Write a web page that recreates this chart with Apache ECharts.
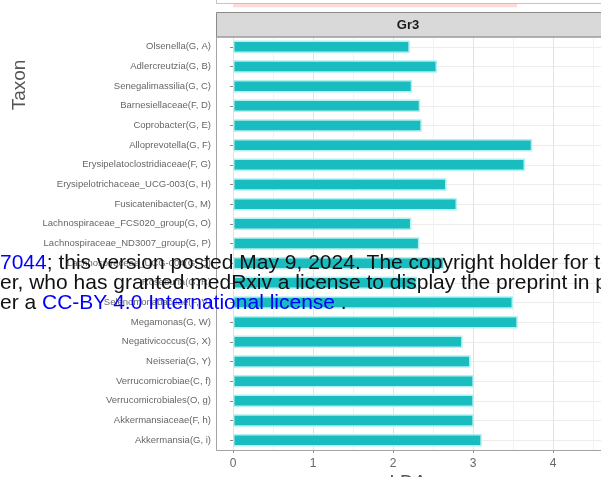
<!DOCTYPE html>
<html>
<head>
<meta charset="utf-8">
<script src="https://cdn.jsdelivr.net/npm/echarts@6/dist/echarts.min.js"></script>
<title>Gr3 LDA</title>
<style>
  html, body { margin: 0; padding: 0; background: #fff; }
  #main { width: 601px; height: 477px; }
</style>
</head>
<body>
<div id="main"></div>
<script type="text/javascript">
// taxa of the Gr3 facet, top to bottom
var taxa = [
  'Olsenella(G, A)', 'Adlercreutzia(G, B)', 'Senegalimassilia(G, C)',
  'Barnesiellaceae(F, D)', 'Coprobacter(G, E)', 'Alloprevotella(G, F)',
  'Erysipelatoclostridiaceae(F, G)', 'Erysipelotrichaceae_UCG-003(G, H)',
  'Fusicatenibacter(G, M)', 'Lachnospiraceae_FCS020_group(G, O)',
  'Lachnospiraceae_ND3007_group(G, P)', 'Lachnospiraceae_UCG-004(G, Q)',
  'Roseburia(G, R)', 'Selenomonadaceae(F, V)', 'Megamonas(G, W)',
  'Negativicoccus(G, X)', 'Neisseria(G, Y)', 'Verrucomicrobiae(C, f)',
  'Verrucomicrobiales(O, g)', 'Akkermansiaceae(F, h)', 'Akkermansia(G, i)'
];
var lda = [2.21, 2.55, 2.24, 2.34, 2.36, 3.74, 3.65, 2.67, 2.80, 2.23, 2.33,
           2.64, 2.30, 3.50, 3.56, 2.87, 2.97, 3.01, 3.01, 3.01, 3.11];

// bottom edge of the facet above (only its last bar peeks in)
var prevTaxa = ['prev'];
var prevLda = [3.55];

var stripLabel = 'Gr3';
var xTitle = 'LDA';
var yTitle = 'Taxon';

var myChart = echarts.init(document.getElementById('main'));
var font = 'Liberation Sans, Arial, sans-serif';
var noteFont = '21px ' + font;

var option = {
  animation: false,
  textStyle: { fontFamily: font },
  grid: [
    { left: 233, right: 0, top: 37, bottom: 27 },
    { left: 233, right: 0, top: -14, height: 17 }
  ],
  xAxis: [{
    gridIndex: 0,
    type: 'value',
    min: 0, max: 4.6, interval: 1,
    axisLine: { show: false },
    axisTick: { show: true, length: 3, lineStyle: { color: '#8c8c8c' } },
    axisLabel: { color: '#666', fontSize: 12, margin: 8, showMaxLabel: false },
    splitLine: { show: true, lineStyle: { color: '#e3e3e3', width: 1 } },
    minorTick: { show: false, splitNumber: 2 },
    minorSplitLine: { show: true, lineStyle: { color: '#f1f1f1', width: 1 } }
  }, {
    gridIndex: 1,
    type: 'value',
    min: 0, max: 4.6,
    show: false
  }],
  yAxis: [{
    gridIndex: 0,
    type: 'category',
    data: taxa,
    inverse: true,
    offset: 17,
    axisLine: { show: false },
    axisTick: { show: true, length: 3, alignWithLabel: true, lineStyle: { color: '#8c8c8c' } },
    axisLabel: { color: '#666', fontSize: 9.5, margin: 5 },
    splitLine: { show: true, alignWithLabel: true, lineStyle: { color: '#ececec' } }
  }, {
    gridIndex: 1,
    type: 'category',
    data: prevTaxa,
    show: false
  }],
  series: [{
    type: 'bar',
    xAxisIndex: 0,
    yAxisIndex: 0,
    data: lda,
    barWidth: 12.5,
    itemStyle: { color: '#19bcbf', borderColor: '#b3f0f0', borderWidth: 1.5 }
  }, {
    type: 'bar',
    xAxisIndex: 1,
    yAxisIndex: 1,
    data: prevLda,
    barWidth: 13,
    itemStyle: { color: '#fbdcdb' }
  }],
  graphic: [
    // previous panel bottom border
    { type: 'line', z: 50, shape: { x1: 216, y1: 3.5, x2: 601, y2: 3.5 }, style: { stroke: '#c4c4c4', lineWidth: 1 } },
    { type: 'line', z: 50, shape: { x1: 216.5, y1: 0, x2: 216.5, y2: 3.5 }, style: { stroke: '#c4c4c4', lineWidth: 1 } },
    // facet strip
    { type: 'rect', z: 50, shape: { x: 216.5, y: 12.5, width: 400, height: 24.5 },
      style: { fill: '#d9d9d9', stroke: '#8a8a8a', lineWidth: 1 } },
    { type: 'text', z: 51, x: 408, y: 25,
      style: { text: stripLabel, font: 'bold 13px ' + font, fill: '#1a1a1a', textAlign: 'center', textVerticalAlign: 'middle' } },
    // panel border
    { type: 'rect', z: 50, shape: { x: 216.5, y: 37, width: 400, height: 413.5 },
      style: { fill: 'none', stroke: '#a3a3a3', lineWidth: 1 } },
    // axis titles
    { type: 'text', z: 51, x: 20, y: 85, rotation: Math.PI / 2,
      style: { text: yTitle, font: '19px ' + font, fill: '#555', textAlign: 'center', textVerticalAlign: 'middle' } },
    { type: 'text', z: 51, x: 408, y: 473,
      style: { text: xTitle, font: '19px ' + font, fill: '#555', textAlign: 'center', textVerticalAlign: 'top' } },
    // preprint notice printed over the figure
    { type: 'text', z: 100, x: 0, y: 263,
      style: {
        text: '{b|7044}; this version posted May 9, 2024. The copyright holder for this preprint',
        font: noteFont, fill: '#111', textVerticalAlign: 'middle',
        rich: { b: { fill: '#0000ff', font: noteFont } }
      } },
    { type: 'text', z: 100, x: 0, y: 283,
      style: {
        text: 'er, who has granted medRxiv a license to display the preprint in perpetuity.',
        font: noteFont, fill: '#111', textVerticalAlign: 'middle'
      } },
    { type: 'text', z: 100, x: 0, y: 303,
      style: {
        text: 'er a {b|CC-BY 4.0 International license} .',
        font: noteFont, fill: '#111', textVerticalAlign: 'middle',
        rich: { b: { fill: '#0000ff', font: noteFont } }
      } }
  ]
};

myChart.setOption(option);
</script>
</body>
</html>
